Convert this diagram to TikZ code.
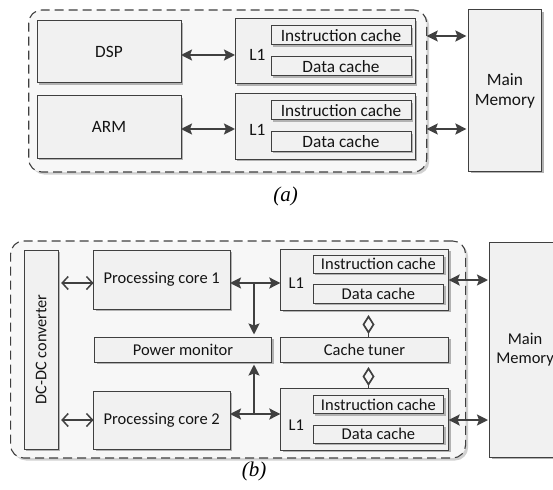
\documentclass[tikz,border=0pt]{standalone}
\usepackage{fontspec}
\setmainfont{Carlito}
\newfontfamily\capfont{Liberation Serif}
\usetikzlibrary{arrows.meta,shadows}
\definecolor{ln}{HTML}{404040}
\definecolor{tx}{HTML}{141414}
\definecolor{bxfill}{HTML}{F1F1F1}
\definecolor{cfill}{HTML}{F7F7F7}
\tikzset{
  box/.style={draw=ln, line width=1pt, fill=bxfill, inner sep=0pt, outer sep=0pt,
    text=tx, align=center,
    drop shadow={shadow xshift=2.2pt, shadow yshift=-2.2pt, fill=black!30, opacity=1}},
  abox/.style={box, font=\fontsize{17.3}{20}\selectfont},
  bbox/.style={box, font=\fontsize{16.5}{19}\selectfont},
  cont/.style={draw=ln, line width=1.1pt, dash pattern=on 9pt off 5pt, rounded corners=13pt,
    fill=cfill, inner sep=0pt, outer sep=0pt,
    drop shadow={shadow xshift=2.5pt, shadow yshift=-2.5pt, fill=black!18, opacity=1}},
  lab/.style={text=tx, inner sep=0pt},
  tipf/.tip={Stealth[length=11pt,width=11pt,inset=2pt]},
  arr/.style={draw=ln, line width=2pt, tipf-tipf},
  arrone/.style={draw=ln, line width=2pt, -tipf, shorten >=2.5pt},
  oarr/.style={draw=ln, line width=1.5pt, {Straight Barb[length=6pt,width=13pt]}-{Straight Barb[length=6pt,width=13pt]}},
  dia/.style={draw=ln, line width=1.7pt, -{Diamond[open,length=19pt,width=12pt,line width=1.7pt]}, shorten >=5pt},
  caplabel/.style={inner sep=0pt, text=black, font=\capfont\itshape\fontsize{21}{24}\selectfont}
}
\begin{document}
\begin{tikzpicture}[x=1pt,y=-1pt]
\clip (0,0) rectangle (553,489);
\fill[white] (0,0) rectangle (553,489);
% ---------------- (a) ----------------
\node[cont, minimum width=398pt, minimum height=162pt] (ca) at (227.7,91) {};
\node[abox, minimum width=144pt, minimum height=62pt] (dsp) at (109,52) {DSP};
\node[abox, minimum width=144pt, minimum height=62pt] (arm) at (109,127) {ARM};
\node[abox, minimum width=180pt, minimum height=65pt] (l1a1) at (325,51.5) {};
\node[abox, minimum width=140pt, minimum height=19pt] (ica1) at (341,35.5) {Instruction cache};
\node[abox, minimum width=140pt, minimum height=19pt] (dca1) at (341,66.5) {Data cache};
\node[abox, minimum width=180pt, minimum height=65pt] (l1a2) at (325,126.5) {};
\node[abox, minimum width=140pt, minimum height=19pt] (ica2) at (341,110.5) {Instruction cache};
\node[abox, minimum width=140pt, minimum height=19pt] (dca2) at (341,141.5) {Data cache};
\node[lab, font=\fontsize{17.3}{20}\selectfont] (la1) at (257.5,55) {L1};
\node[lab, font=\fontsize{17.3}{20}\selectfont] (la2) at (257.5,130) {L1};
\node[abox, minimum width=73pt, minimum height=161pt] (mma) at (504.9,90.5) {Main\\Memory};
\node[caplabel] (capa) at (285.7,196) {(a)};
\coordinate (ya1) at (0,55);
\coordinate (ya2) at (0,129);
\coordinate (ym1) at (0,36);
\coordinate (ym2) at (0,129);
\draw[arr] (dsp.east |- ya1) -- (l1a1.west |- ya1);
\draw[arr] (arm.east |- ya2) -- (l1a2.west |- ya2);
\draw[arr, shorten >=2pt] (ca.east |- ym1) -- (mma.west |- ym1);
\draw[arr, shorten >=2pt] (ca.east |- ym2) -- (mma.west |- ym2);
% ---------------- (b) ----------------
\node[cont, minimum width=455pt, minimum height=217pt] (cb) at (238.1,349.5) {};
\node[bbox, minimum width=34.2pt, minimum height=199pt] (dcdc) at (41.1,349.5) {};
\node[lab, rotate=90, font=\fontsize{16.3}{19}\selectfont] (dct) at (dcdc.center) {DC-DC converter};
\node[bbox, minimum width=136.5pt, minimum height=59pt] (pc1) at (161.75,279.5) {Processing core 1};
\node[bbox, minimum width=177pt, minimum height=25pt] (pm) at (183,349.5) {Power monitor};
\node[bbox, minimum width=136.5pt, minimum height=58pt] (pc2) at (161.75,420) {Processing core 2};
\node[bbox, minimum width=168.3pt, minimum height=61pt] (l1b1) at (364.5,279.5) {};
\node[bbox, minimum width=130.7pt, minimum height=18pt] (icb1) at (378.4,264) {Instruction cache};
\node[bbox, minimum width=130.7pt, minimum height=19pt] (dcb1) at (378.4,293.5) {Data cache};
\node[bbox, minimum width=168.3pt, minimum height=25pt] (ct) at (364.5,349.5) {Cache tuner};
\node[bbox, minimum width=168.3pt, minimum height=62pt] (l1b2) at (364.5,419) {};
\node[bbox, minimum width=130.7pt, minimum height=18pt] (icb2) at (378.4,404.5) {Instruction cache};
\node[bbox, minimum width=130.7pt, minimum height=18pt] (dcb2) at (378.4,434) {Data cache};
\node[lab, font=\fontsize{16.5}{19}\selectfont] (lb1) at (296.3,283) {L1};
\node[lab, font=\fontsize{16.5}{19}\selectfont] (lb2) at (296.3,425) {L1};
\node[bbox, minimum width=71pt, minimum height=215pt] (mmb) at (525,349.5) {Main\\Memory};
\node[caplabel] (capb) at (254,471) {(b)};
\coordinate (yb1) at (0,283);
\coordinate (yb2) at (0,420);
\coordinate (yc1) at (0,283);
\coordinate (yc2) at (0,414);
\coordinate (ymb1) at (0,280);
\coordinate (ymb2) at (0,420);
\coordinate (j1) at (254,283);
\coordinate (j2) at (254,414);
\coordinate (dx) at (368.5,0);
\draw[oarr, shorten <=3pt] (dcdc.east |- yb1) -- (pc1.west |- yb1);
\draw[oarr, shorten <=3pt] (dcdc.east |- yb2) -- (pc2.west |- yb2);
\draw[arr] (pc1.east |- yc1) -- (l1b1.west |- yc1);
\draw[arr] (pc2.east |- yc2) -- (l1b2.west |- yc2);
\draw[arrone] (j1) -- (j1 |- pm.north);
\draw[arrone] (j2) -- (j2 |- pm.south);
\draw[arr, shorten >=1.5pt] (l1b1.east |- ymb1) -- (mmb.west |- ymb1);
\draw[arr, shorten >=1.5pt] (l1b2.east |- ymb2) -- (mmb.west |- ymb2);
\draw[dia] (ct.north -| dx) -- (l1b1.south -| dx);
\draw[dia] (l1b2.north -| dx) -- (ct.south -| dx);
\end{tikzpicture}
\end{document}
